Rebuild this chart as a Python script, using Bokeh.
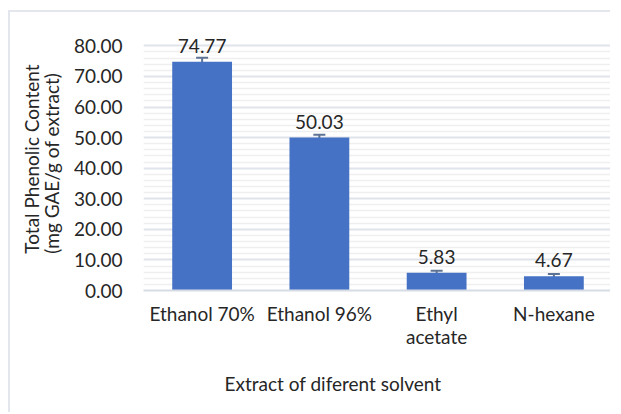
import numpy as np
from bokeh.plotting import figure
from bokeh.models import (ColumnDataSource, FixedTicker, Whisker, TeeHead, Title,
                          FactorRange, Range1d, PrintfTickFormatter)
from bokeh.core.properties import value
from bokeh.embed import file_html
from bokeh.resources import INLINE

# ---- data ----
categories = ["Ethanol 70%", "Ethanol 96%", "Ethyl\nacetate", "N-hexane"]
tpc_values = [74.77, 50.03, 5.83, 4.67]
tpc_errors = [1.3, 0.9, 0.6, 0.7]
value_labels = ["74.77", "50.03", "5.83", "4.67"]
y_ticks = [0, 10, 20, 30, 40, 50, 60, 70, 80]
y_minor = [v for v in range(2, 80, 2) if v % 10 != 0]

FONT = "Lato"
TXT = "#262626"
ERR = "#5d7393"

src = ColumnDataSource(dict(
    cat=categories,
    val=tpc_values,
    upper=[v + e for v, e in zip(tpc_values, tpc_errors)],
    lower=[v - e for v, e in zip(tpc_values, tpc_errors)],
    lab=value_labels,
))

p = figure(width=602, height=402, x_range=FactorRange(*categories),
           y_range=Range1d(0, 86), output_backend="svg", toolbar_location=None,
           min_border_left=131, min_border_right=0, min_border_top=15,
           min_border_bottom=124)
p.margin = (10, 0, 0, 8)
p.styles = {"border-left": "2px solid #e3e7ed", "border-top": "2px solid #e3e7ed"}
p.outline_line_color = None
p.background_fill_color = "white"
p.border_fill_color = "white"

p.vbar(x="cat", top="val", bottom=0, width=0.51, source=src,
       fill_color="#4672c6", line_color=None)

p.add_layout(Whisker(source=src, base="cat", upper="upper", lower="lower",
                     line_color=ERR, line_width=2,
                     upper_head=TeeHead(size=12, line_color=ERR, line_width=2),
                     lower_head=TeeHead(size=12, line_color=ERR, line_width=2)))

p.text(x="cat", y="val", text="lab", source=src, y_offset=-16,
       text_align="center", text_baseline="alphabetic",
       text_font=value(FONT), text_font_size="19px", text_color=TXT)

# axes
p.yaxis.ticker = FixedTicker(ticks=y_ticks, minor_ticks=y_minor)
p.yaxis.formatter = PrintfTickFormatter(format="%.2f")
p.yaxis.axis_line_color = None
p.yaxis.major_tick_line_color = None
p.yaxis.minor_tick_line_color = None
p.yaxis.major_label_standoff = 15
p.yaxis.major_label_text_font = FONT
p.yaxis.major_label_text_font_size = "19px"
p.yaxis.major_label_text_color = TXT

p.xaxis.axis_line_color = "#d6dce5"
p.xaxis.axis_line_width = 2
p.xaxis.major_tick_line_color = None
p.xaxis.minor_tick_line_color = None
p.xaxis.major_label_standoff = 5
p.xaxis.major_label_text_font = FONT
p.xaxis.major_label_text_font_size = "19px"
p.xaxis.major_label_text_color = TXT
p.xaxis.major_label_text_line_height = 1.0

p.xgrid.grid_line_color = None
p.ygrid.grid_line_color = "#dfe3ea"
p.ygrid.grid_line_width = 2
p.ygrid.minor_grid_line_color = "#efefef"
p.ygrid.minor_grid_line_width = 1.5

# axis titles
p.add_layout(Title(text="Total Phenolic Content\n(mg GAE/g  of extract)",
                   align="center", offset=-13, standoff=14,
                   text_font=FONT, text_font_size="19px", text_font_style="normal",
                   text_color=TXT, text_line_height=0.9), "left")
p.add_layout(Title(text="Extract of diferent solvent", align="left", offset=81,
                   standoff=38,
                   text_font=FONT, text_font_size="19px", text_font_style="normal",
                   text_color=TXT), "below")

open("out.html", "w").write(file_html(p, INLINE))
